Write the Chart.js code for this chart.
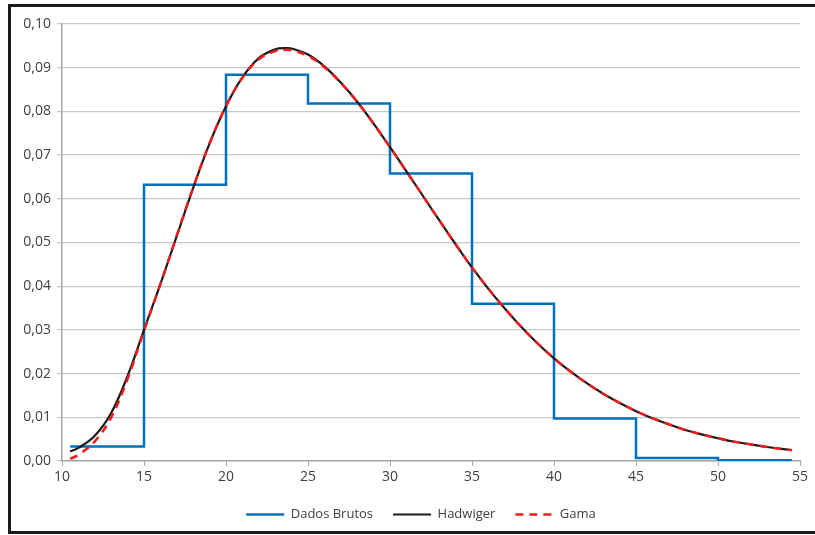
<!doctype html>
<html>
    <head>
        <meta charset="utf-8">
        <title>Distribuição</title>
        <script src="https://cdn.jsdelivr.net/npm/chart.js@4.4.1/dist/chart.umd.min.js"></script>
        <style>
            body { margin: 0; background: #ffffff; }
            #box { position: relative; width: 815px; height: 535px; }
        </style>
    </head>

    <body>
        <div id="box">
            <canvas id="grafico"></canvas>
        </div>
    </body>
</html>

<script>

    // histograma (inicio de cada classe e frequencia)
    var classes_x = [10.5, 15, 20, 25, 30, 35, 40, 45, 50, 54.5];
    var dados_y   = [0.0033, 0.0632, 0.0884, 0.0818, 0.0658, 0.0360, 0.0097, 0.0007, 0.0002, 0.0002];

    // curvas ajustadas
    var curva_x   = [10.5, 11, 12, 13, 14, 15, 16, 17, 18, 19, 20, 21, 22, 23, 23.7, 24, 25, 26, 27, 28, 29, 30,
                     31, 32, 33, 34, 35, 36, 37, 38, 39, 40, 41, 42, 43, 44, 45, 46, 47, 48, 49, 50, 51, 52, 53, 54, 54.5];
    var hadwiger  = [0.0022, 0.0030, 0.0058, 0.0110, 0.0195, 0.0300, 0.0405, 0.0515, 0.0625, 0.0727, 0.0812, 0.0878,
                     0.0922, 0.0942, 0.0945, 0.0944, 0.0930, 0.0903, 0.0866, 0.0822, 0.0772, 0.0718,
                     0.0663, 0.0607, 0.0551, 0.0496, 0.0443, 0.0394, 0.0349, 0.0307, 0.0269, 0.0235, 0.0205, 0.0178,
                     0.0154, 0.0133, 0.0114, 0.0098, 0.0084, 0.0071, 0.0061, 0.0052, 0.0044, 0.0038, 0.0032, 0.0027, 0.0025];
    var gama      = [0.0005, 0.0014, 0.0045, 0.0100, 0.0188, 0.0298, 0.0405, 0.0516, 0.0626, 0.0727, 0.0812, 0.0877,
                     0.0919, 0.0938, 0.0941, 0.0940, 0.0927, 0.0901, 0.0865, 0.0822, 0.0772, 0.0718,
                     0.0663, 0.0607, 0.0551, 0.0496, 0.0443, 0.0394, 0.0349, 0.0307, 0.0269, 0.0235, 0.0205, 0.0178,
                     0.0154, 0.0133, 0.0114, 0.0098, 0.0084, 0.0071, 0.0061, 0.0052, 0.0044, 0.0038, 0.0032, 0.0027, 0.0025];

    var nomes  = ["Dados Brutos", "Hadwiger", "Gama"];
    var cores  = ["#0070c0", "#1a1a1a", "#ee1c1c"];

    function pares(xs, ys) {
        var p = [];
        for (var i = 0; i < xs.length; i++) {
            p.push({x: xs[i], y: ys[i]});
        }
        return p;
    }

    // moldura preta em volta da figura + legenda um pouco para a direita
    var moldura = {
        id: 'moldura',
        afterLayout: function(chart) {
            if (chart.legend) {
                chart.legend.left += 42;
            }
        },
        afterDraw: function(chart) {
            var ctx = chart.ctx;
            ctx.save();
            ctx.strokeStyle = '#1a1a1a';
            ctx.lineWidth = 3;
            ctx.beginPath();
            ctx.moveTo(815, 5.5);
            ctx.lineTo(9.5, 5.5);
            ctx.lineTo(9.5, 532.5);
            ctx.lineTo(815, 532.5);
            ctx.stroke();
            ctx.restore();
        }
    };

    Chart.defaults.font.family = "'Open Sans', sans-serif";
    Chart.defaults.color = '#404040';

    new Chart(document.getElementById("grafico"), {
        type: 'line',
        data: {
            datasets: [
                {
                    label: nomes[0],
                    data: pares(classes_x, dados_y),
                    stepped: 'before',
                    borderColor: cores[0],
                    borderWidth: 2.5,
                    pointRadius: 0,
                    fill: false,
                    order: 3
                },
                {
                    label: nomes[1],
                    data: pares(curva_x, hadwiger),
                    tension: 0.4,
                    borderColor: cores[1],
                    borderWidth: 2.2,
                    pointRadius: 0,
                    fill: false,
                    order: 2
                },
                {
                    label: nomes[2],
                    data: pares(curva_x, gama),
                    tension: 0.4,
                    borderColor: cores[2],
                    borderWidth: 2.5,
                    borderDash: [8, 6],
                    pointRadius: 0,
                    fill: false,
                    order: 1
                }
            ]
        },
        options: {
            responsive: true,
            maintainAspectRatio: false,
            animation: false,
            layout: {
                padding: {left: 0, right: 15, top: 24, bottom: 4}
            },
            plugins: {
                tooltip: {enabled: false},
                legend: {
                    position: 'bottom',
                    labels: {
                        usePointStyle: true,
                        pointStyleWidth: 38,
                        padding: 20,
                        font: {size: 13},
                        color: '#404040',
                        generateLabels: function(chart) {
                            return chart.data.datasets.map(function(ds, i) {
                                return {
                                    text: ds.label,
                                    fillStyle: ds.borderColor,
                                    strokeStyle: ds.borderColor,
                                    lineWidth: ds.borderWidth,
                                    lineDash: ds.borderDash || [],
                                    pointStyle: 'line',
                                    datasetIndex: i,
                                    fontColor: '#404040'
                                };
                            });
                        }
                    }
                }
            },
            scales: {
                x: {
                    type: 'linear',
                    min: 10,
                    max: 55,
                    afterFit: function(scale) { scale.height = 27; },
                    ticks: {
                        stepSize: 5,
                        padding: 3,
                        font: {size: 14},
                        color: '#404040'
                    },
                    grid: {
                        drawOnChartArea: false,
                        tickLength: 5,
                        color: '#a6a6a6'
                    },
                    border: {color: '#a6a6a6', width: 1.5}
                },
                y: {
                    min: 0,
                    max: 0.1,
                    afterFit: function(scale) { scale.width = 62; },
                    ticks: {
                        stepSize: 0.01,
                        padding: 6,
                        font: {size: 14},
                        color: '#404040',
                        callback: function(v) { return v.toFixed(2).replace('.', ','); }
                    },
                    grid: {
                        color: '#c8c8c8',
                        lineWidth: 1.2,
                        tickLength: 5
                    },
                    border: {color: '#a6a6a6', width: 1.5}
                }
            }
        },
        plugins: [moldura]
    });

</script>
